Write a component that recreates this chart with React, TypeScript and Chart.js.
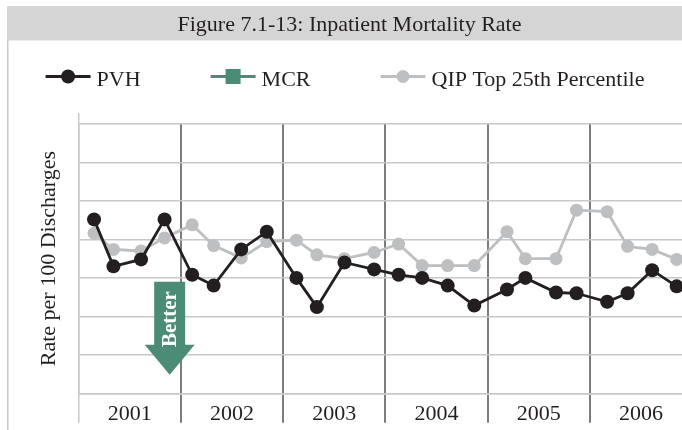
import React, { useEffect, useRef } from 'react';
import { Chart, registerables } from 'chart.js';

Chart.register(...registerables);

// ---- data ----
const years = ['2001', '2002', '2003', '2004', '2005', '2006'];
// reporting periods as decimal years (quarterly points)
const periods = [
  2001.15, 2001.34, 2001.61, 2001.84,
  2002.11, 2002.32, 2002.59, 2002.84,
  2003.13, 2003.33, 2003.6, 2003.89,
  2004.13, 2004.36, 2004.61, 2004.87,
  2005.19, 2005.37, 2005.67, 2005.87,
  2006.17, 2006.37, 2006.61, 2006.85,
];
const pvh = [
  2.26, 1.65, 1.74, 2.26,
  1.54, 1.4, 1.87, 2.1,
  1.5, 1.12, 1.7, 1.61,
  1.54, 1.5, 1.4, 1.14,
  1.35, 1.5, 1.31, 1.3,
  1.19, 1.3, 1.6, 1.39,
];
const mcr: number[] = [];
const qip = [
  2.08, 1.87, 1.85, 2.02,
  2.19, 1.92, 1.76, 1.97,
  1.99, 1.8, 1.75, 1.83,
  1.94, 1.66, 1.66, 1.66,
  2.1, 1.75, 1.75, 2.38,
  2.36, 1.91, 1.87, 1.74,
];
const seriesNames = ['PVH', 'MCR', 'QIP Top 25th Percentile'];
const chartTitle = 'Figure 7.1-13: Inpatient Mortality Rate';
const yAxisTitle = 'Rate per 100 Discharges';
const arrowLabel = 'Better';
// arrow annotation in data units
const arrowAt = 2001.89;
const arrowTop = 1.45;
const arrowNeck = 0.63;
const arrowTip = 0.24;
const arrowLabelAt = 0.965;

// ---- styles ----
const FONT = 'Liberation Serif';
const TEXT = '#231f20';
const BLACK = '#231f20';
const GREEN = '#4a8c76';
const GREY_SERIES = '#bdbfc1';
const GRID_LIGHT = '#c8c8c8';
const SEPARATOR = '#7c7c7c';
const BAR_BG = '#d5d5d5';

const toPoints = (vals: number[]) => vals.map((y, i) => ({ x: periods[i], y }));

const framePlugin = {
  id: 'frame',
  beforeDraw(chart: any) {
    const { ctx, width, height, chartArea } = chart;
    ctx.save();
    // left frame border
    ctx.fillStyle = GRID_LIGHT;
    ctx.fillRect(0, 0, 1.5, height);
    // title bar
    ctx.fillStyle = BAR_BG;
    ctx.fillRect(0, 0, width, 34.5);
    // y axis line extends a little above the top gridline
    ctx.strokeStyle = GRID_LIGHT;
    ctx.lineWidth = 1.5;
    ctx.beginPath();
    ctx.moveTo(chartArea.left, chartArea.top - 11);
    ctx.lineTo(chartArea.left, chartArea.top);
    ctx.stroke();
    ctx.restore();
  },
};

const arrowPlugin = {
  id: 'betterArrow',
  afterDatasetsDraw(chart: any) {
    const { ctx } = chart;
    const xs = chart.scales.xq;
    const ys = chart.scales.y;
    const cx = xs.getPixelForValue(arrowAt);
    const top = ys.getPixelForValue(arrowTop);
    const neck = ys.getPixelForValue(arrowNeck);
    const tip = ys.getPixelForValue(arrowTip);
    const sw = 15.5;
    const hw = 25;
    ctx.save();
    ctx.fillStyle = GREEN;
    ctx.beginPath();
    ctx.moveTo(cx - sw, top);
    ctx.lineTo(cx + sw, top);
    ctx.lineTo(cx + sw, neck);
    ctx.lineTo(cx + hw, neck);
    ctx.lineTo(cx, tip);
    ctx.lineTo(cx - hw, neck);
    ctx.lineTo(cx - sw, neck);
    ctx.closePath();
    ctx.fill();
    ctx.translate(cx, ys.getPixelForValue(arrowLabelAt));
    ctx.rotate(-Math.PI / 2);
    ctx.fillStyle = '#ffffff';
    ctx.font = `bold 21px "${FONT}"`;
    ctx.textAlign = 'center';
    ctx.textBaseline = 'middle';
    ctx.fillText(arrowLabel, 0, 1);
    ctx.restore();
  },
};

const legendPlugin = {
  id: 'seriesKey',
  afterDraw(chart: any) {
    const { ctx } = chart;
    const lineLen = 45;
    const gap = 6;
    const spacing = 70;
    const cy = 70.5;
    ctx.save();
    ctx.font = `22px "${FONT}"`;
    const items = chart.data.datasets.map((ds: any) => ({
      label: ds.label,
      color: ds.borderColor,
      style: ds.pointStyle,
      r: ds.pointRadius,
    }));
    const widths = items.map((it: any) => lineLen + gap + ctx.measureText(it.label).width);
    const total = widths.reduce((a: number, b: number) => a + b, 0) + spacing * (items.length - 1);
    let x = chart.width / 2 - 4.5 - total / 2;
    items.forEach((it: any, i: number) => {
      ctx.strokeStyle = it.color;
      ctx.fillStyle = it.color;
      ctx.lineWidth = 3;
      ctx.beginPath();
      ctx.moveTo(x, cy);
      ctx.lineTo(x + lineLen, cy);
      ctx.stroke();
      const mx = x + lineLen / 2;
      if (it.style === 'rect') {
        ctx.fillRect(mx - 7.5, cy - 7.5, 15, 15);
      } else {
        ctx.beginPath();
        ctx.arc(mx, cy, it.r, 0, Math.PI * 2);
        ctx.fill();
      }
      ctx.fillStyle = TEXT;
      ctx.textAlign = 'left';
      ctx.textBaseline = 'alphabetic';
      ctx.fillText(it.label, x + lineLen + gap, cy + 9.5);
      x += widths[i] + spacing;
    });
    ctx.restore();
  },
};

export default function App() {
  const canvasRef = useRef<HTMLCanvasElement | null>(null);

  useEffect(() => {
    if (!canvasRef.current) return;
    const chart = new Chart(canvasRef.current, {
      type: 'line',
      data: {
        labels: years,
        datasets: [
          {
            label: seriesNames[0],
            data: toPoints(pvh),
            xAxisID: 'xq',
            yAxisID: 'y',
            borderColor: BLACK,
            backgroundColor: BLACK,
            borderWidth: 2.8,
            pointRadius: 7,
            pointStyle: 'circle',
            pointBorderWidth: 0,
            pointBackgroundColor: BLACK,
            tension: 0,
          },
          {
            label: seriesNames[1],
            data: toPoints(mcr),
            xAxisID: 'xq',
            yAxisID: 'y',
            borderColor: GREEN,
            backgroundColor: GREEN,
            borderWidth: 2.8,
            pointRadius: 7,
            pointStyle: 'rect',
            tension: 0,
          },
          {
            label: seriesNames[2],
            data: toPoints(qip),
            xAxisID: 'xq',
            yAxisID: 'y',
            borderColor: GREY_SERIES,
            backgroundColor: GREY_SERIES,
            borderWidth: 2.8,
            pointRadius: 6.5,
            pointStyle: 'circle',
            pointBorderWidth: 0,
            pointBackgroundColor: GREY_SERIES,
            tension: 0,
          },
        ],
      },
      options: {
        responsive: false,
        animation: false,
        events: [],
        devicePixelRatio: 1,
        layout: { padding: 0, autoPadding: false },
        plugins: {
          legend: { display: false },
          tooltip: { enabled: false },
          title: {
            display: true,
            text: chartTitle,
            color: TEXT,
            font: { family: FONT, size: 22, weight: 'normal' },
            padding: { top: 6.1, bottom: 85.5 },
          },
        },
        scales: {
          x: {
            type: 'category',
            position: 'bottom',
            offset: true,
            grid: {
              offset: true,
              drawOnChartArea: true,
              drawTicks: true,
              tickLength: 29.4,
              color: (c: any) => (c.index === 0 ? GRID_LIGHT : SEPARATOR),
              lineWidth: (c: any) => (c.index === 0 ? 1.5 : 2),
            },
            border: { display: true, color: GRID_LIGHT, width: 1.5 },
            ticks: {
              color: TEXT,
              font: { family: FONT, size: 22 },
              padding: -21.7,
              autoSkip: false,
              maxRotation: 0,
            },
            afterFit: (s: any) => {
              s.height = 36.7;
            },
          },
          xq: {
            type: 'linear',
            position: 'bottom',
            display: false,
            min: 2001,
            max: 2007,
          },
          y: {
            type: 'linear',
            position: 'left',
            min: 0,
            max: 3.5,
            ticks: { display: false, stepSize: 0.5 },
            grid: { color: GRID_LIGHT, lineWidth: 1.5, drawTicks: false },
            border: { display: true, color: GRID_LIGHT, width: 1.5 },
            title: {
              display: true,
              text: yAxisTitle,
              color: TEXT,
              font: { family: FONT, size: 22, weight: 'normal' },
              padding: { top: 29.4, bottom: 0 },
            },
            afterFit: (s: any) => {
              s.width = 71.7;
            },
          },
        },
      } as any,
      plugins: [framePlugin, arrowPlugin, legendPlugin],
    });
    return () => chart.destroy();
  }, []);

  return (
    <div
      style={{
        position: 'fixed',
        left: 0,
        top: 0,
        width: 682,
        height: 430,
        overflow: 'hidden',
        background: '#ffffff',
      }}
    >
      <canvas
        ref={canvasRef}
        width={685}
        height={424}
        style={{ position: 'absolute', left: 7, top: 6, width: 685, height: 424 }}
      />
    </div>
  );
}
